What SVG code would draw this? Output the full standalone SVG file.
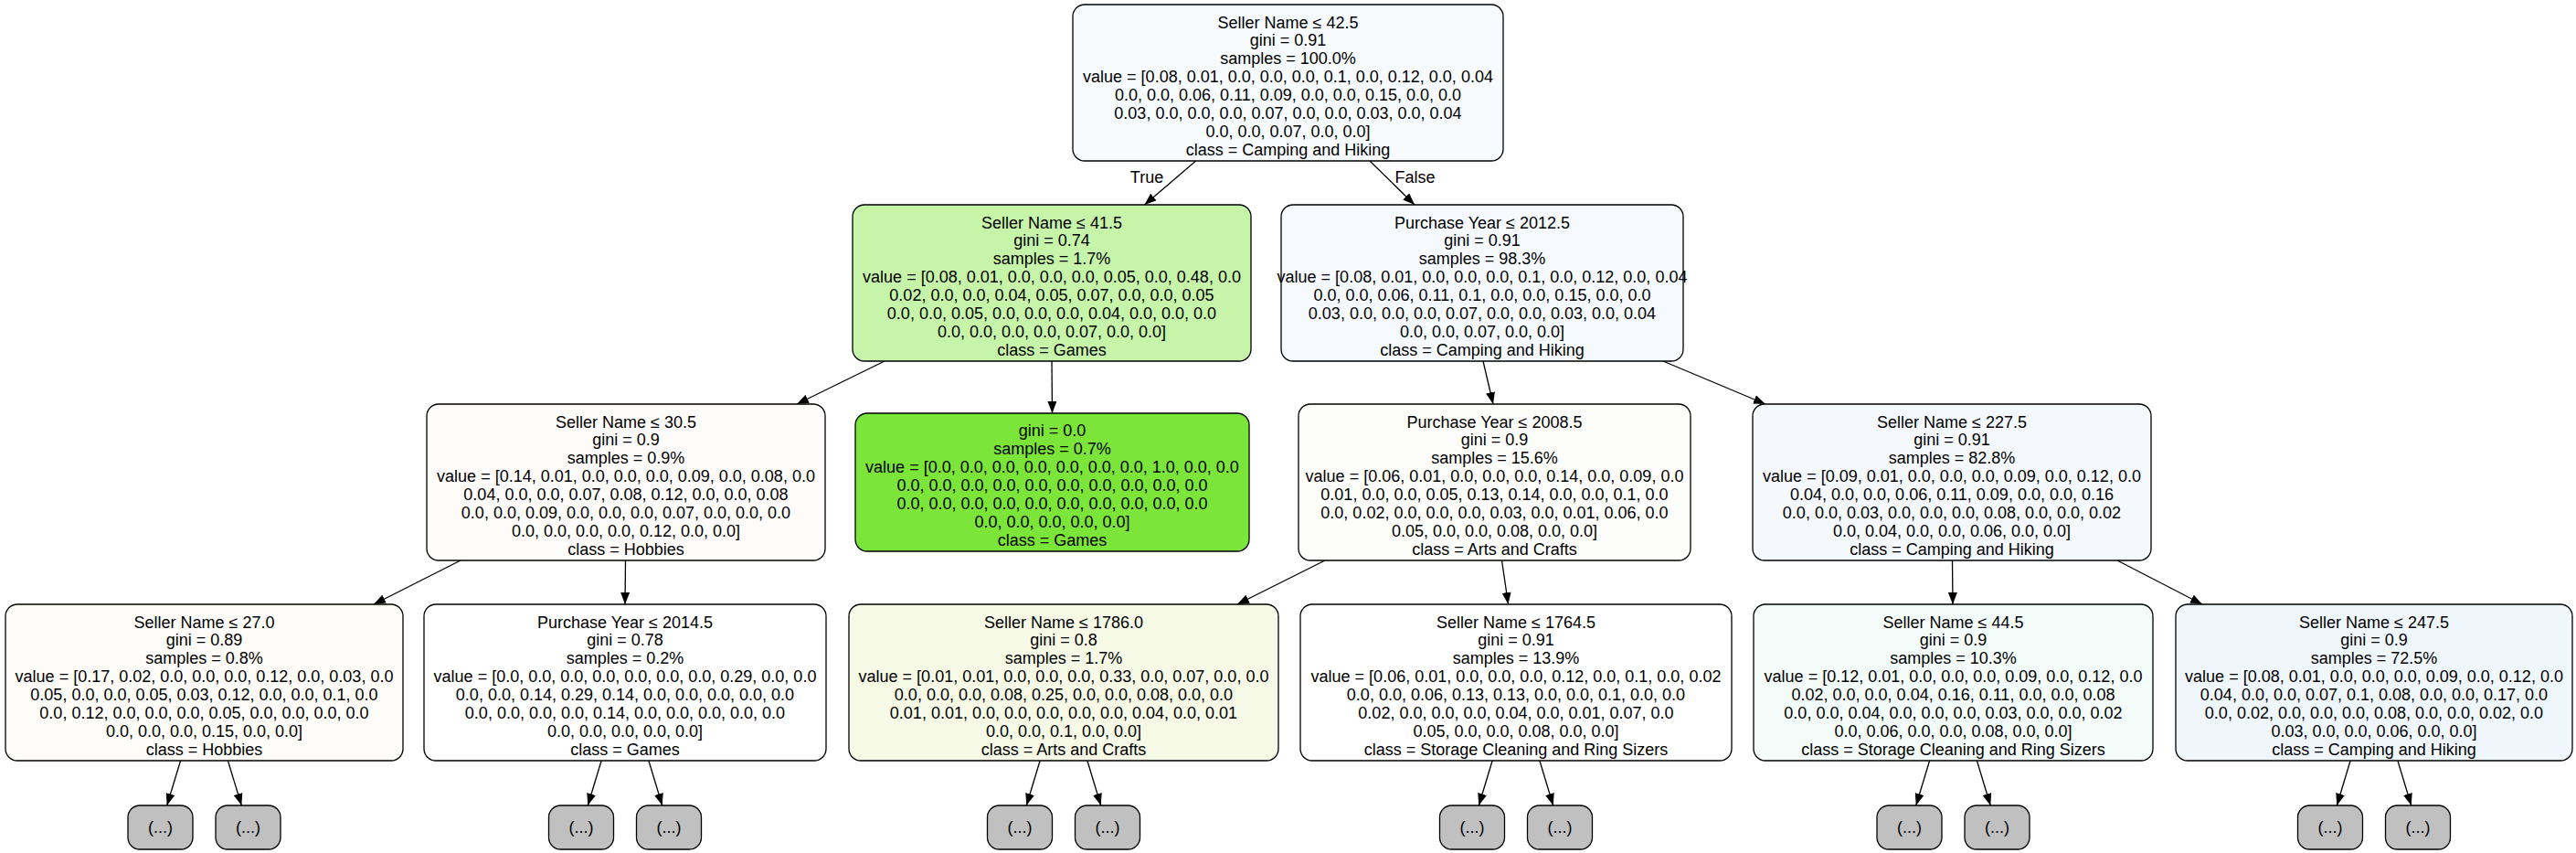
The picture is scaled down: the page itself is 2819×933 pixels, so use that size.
<svg xmlns="http://www.w3.org/2000/svg" width="2819" height="933" viewBox="0 0 2819 933">
<defs>
<style>
.n{stroke:#000;stroke-width:1.3}
.t{font-family:"Liberation Sans",Arial,Helvetica,sans-serif;font-size:18px;fill:#000;text-anchor:middle}
.e{stroke:#000;stroke-width:1.3;fill:none;marker-end:url(#ah)}
.g{fill:#c0c0c0}
</style>
<marker id="ah" markerUnits="userSpaceOnUse" viewBox="0 0 13 10" refX="13" refY="5" markerWidth="13" markerHeight="10" orient="auto">
<path d="M0,0 L13,5 L0,10 z" fill="#000"/>
</marker>
</defs>
<rect width="2819" height="933" fill="#fff"/>
<g id="edges">
<line class="e" x1="1308.6" y1="176" x2="1252.5" y2="224"/>
<line class="e" x1="1499" y1="176" x2="1548" y2="224"/>
<line class="e" x1="968" y1="395" x2="872" y2="442"/>
<line class="e" x1="1151" y1="395" x2="1151.5" y2="452"/>
<line class="e" x1="1623" y1="395" x2="1634" y2="442"/>
<line class="e" x1="1820" y1="395" x2="1932" y2="442"/>
<line class="e" x1="504" y1="613" x2="409" y2="661"/>
<line class="e" x1="684.5" y1="613" x2="684" y2="661"/>
<line class="e" x1="1450" y1="613" x2="1354" y2="661"/>
<line class="e" x1="1643.5" y1="613" x2="1650.5" y2="661"/>
<line class="e" x1="2136.5" y1="613" x2="2137" y2="661"/>
<line class="e" x1="2317" y1="613" x2="2410" y2="661"/>
<line class="e" x1="197.6" y1="832" x2="182.7" y2="881"/>
<line class="e" x1="249.4" y1="832" x2="264.3" y2="881"/>
<line class="e" x1="658.1" y1="832" x2="643.3" y2="881"/>
<line class="e" x1="709.9" y1="832" x2="724.7" y2="881"/>
<line class="e" x1="1138.1" y1="832" x2="1123.3" y2="881"/>
<line class="e" x1="1189.9" y1="832" x2="1204.7" y2="881"/>
<line class="e" x1="1633.1" y1="832" x2="1618.3" y2="881"/>
<line class="e" x1="1684.9" y1="832" x2="1699.7" y2="881"/>
<line class="e" x1="2111.6" y1="832" x2="2096.8" y2="881"/>
<line class="e" x1="2163.4" y1="832" x2="2178.2" y2="881"/>
<line class="e" x1="2572.1" y1="832" x2="2557.3" y2="881"/>
<line class="e" x1="2623.9" y1="832" x2="2638.7" y2="881"/>
<text class="t" x="1255" y="200">True</text>
<text class="t" x="1548.5" y="200">False</text>
</g>
<g id="n0">
<rect class="n" x="1174" y="5" width="471" height="171" rx="13" fill="#f7fbfe"/>
<text class="t"><tspan x="1409.5" y="30.5">Seller Name ≤ 42.5</tspan><tspan x="1409.5" y="50.4">gini = 0.91</tspan><tspan x="1409.5" y="70.2">samples = 100.0%</tspan><tspan x="1409.5" y="90.1">value = [0.08, 0.01, 0.0, 0.0, 0.0, 0.1, 0.0, 0.12, 0.0, 0.04</tspan><tspan x="1409.5" y="110">0.0, 0.0, 0.06, 0.11, 0.09, 0.0, 0.0, 0.15, 0.0, 0.0</tspan><tspan x="1409.5" y="129.8">0.03, 0.0, 0.0, 0.0, 0.07, 0.0, 0.0, 0.03, 0.0, 0.04</tspan><tspan x="1409.5" y="149.7">0.0, 0.0, 0.07, 0.0, 0.0]</tspan><tspan x="1409.5" y="169.5">class = Camping and Hiking</tspan></text>
</g>
<g id="n1">
<rect class="n" x="933" y="224" width="436" height="171" rx="13" fill="#c6f4a9"/>
<text class="t"><tspan x="1151" y="249.5">Seller Name ≤ 41.5</tspan><tspan x="1151" y="269.4">gini = 0.74</tspan><tspan x="1151" y="289.2">samples = 1.7%</tspan><tspan x="1151" y="309.1">value = [0.08, 0.01, 0.0, 0.0, 0.0, 0.05, 0.0, 0.48, 0.0</tspan><tspan x="1151" y="329">0.02, 0.0, 0.0, 0.04, 0.05, 0.07, 0.0, 0.0, 0.05</tspan><tspan x="1151" y="348.8">0.0, 0.0, 0.05, 0.0, 0.0, 0.0, 0.04, 0.0, 0.0, 0.0</tspan><tspan x="1151" y="368.7">0.0, 0.0, 0.0, 0.0, 0.07, 0.0, 0.0]</tspan><tspan x="1151" y="388.5">class = Games</tspan></text>
</g>
<g id="n2">
<rect class="n" x="1402" y="224" width="440" height="171" rx="13" fill="#f6fafe"/>
<text class="t"><tspan x="1622" y="249.5">Purchase Year ≤ 2012.5</tspan><tspan x="1622" y="269.4">gini = 0.91</tspan><tspan x="1622" y="289.2">samples = 98.3%</tspan><tspan x="1622" y="309.1">value = [0.08, 0.01, 0.0, 0.0, 0.0, 0.1, 0.0, 0.12, 0.0, 0.04</tspan><tspan x="1622" y="329">0.0, 0.0, 0.06, 0.11, 0.1, 0.0, 0.0, 0.15, 0.0, 0.0</tspan><tspan x="1622" y="348.8">0.03, 0.0, 0.0, 0.0, 0.07, 0.0, 0.0, 0.03, 0.0, 0.04</tspan><tspan x="1622" y="368.7">0.0, 0.0, 0.07, 0.0, 0.0]</tspan><tspan x="1622" y="388.5">class = Camping and Hiking</tspan></text>
</g>
<g id="n3">
<rect class="n" x="467" y="442" width="436" height="171" rx="13" fill="#fefcfa"/>
<text class="t"><tspan x="685" y="467.5">Seller Name ≤ 30.5</tspan><tspan x="685" y="487.4">gini = 0.9</tspan><tspan x="685" y="507.2">samples = 0.9%</tspan><tspan x="685" y="527.1">value = [0.14, 0.01, 0.0, 0.0, 0.0, 0.09, 0.0, 0.08, 0.0</tspan><tspan x="685" y="547">0.04, 0.0, 0.0, 0.07, 0.08, 0.12, 0.0, 0.0, 0.08</tspan><tspan x="685" y="566.8">0.0, 0.0, 0.09, 0.0, 0.0, 0.0, 0.07, 0.0, 0.0, 0.0</tspan><tspan x="685" y="586.7">0.0, 0.0, 0.0, 0.0, 0.12, 0.0, 0.0]</tspan><tspan x="685" y="606.5">class = Hobbies</tspan></text>
</g>
<g id="n4">
<rect class="n" x="936" y="452" width="431" height="151" rx="13" fill="#7be539"/>
<text class="t"><tspan x="1151.5" y="477.4">gini = 0.0</tspan><tspan x="1151.5" y="497.3">samples = 0.7%</tspan><tspan x="1151.5" y="517.1">value = [0.0, 0.0, 0.0, 0.0, 0.0, 0.0, 0.0, 1.0, 0.0, 0.0</tspan><tspan x="1151.5" y="537">0.0, 0.0, 0.0, 0.0, 0.0, 0.0, 0.0, 0.0, 0.0, 0.0</tspan><tspan x="1151.5" y="556.9">0.0, 0.0, 0.0, 0.0, 0.0, 0.0, 0.0, 0.0, 0.0, 0.0</tspan><tspan x="1151.5" y="576.7">0.0, 0.0, 0.0, 0.0, 0.0]</tspan><tspan x="1151.5" y="596.6">class = Games</tspan></text>
</g>
<g id="n5">
<rect class="n" x="1421" y="442" width="429" height="171" rx="13" fill="#fdfefc"/>
<text class="t"><tspan x="1635.5" y="467.5">Purchase Year ≤ 2008.5</tspan><tspan x="1635.5" y="487.4">gini = 0.9</tspan><tspan x="1635.5" y="507.2">samples = 15.6%</tspan><tspan x="1635.5" y="527.1">value = [0.06, 0.01, 0.0, 0.0, 0.0, 0.14, 0.0, 0.09, 0.0</tspan><tspan x="1635.5" y="547">0.01, 0.0, 0.0, 0.05, 0.13, 0.14, 0.0, 0.0, 0.1, 0.0</tspan><tspan x="1635.5" y="566.8">0.0, 0.02, 0.0, 0.0, 0.0, 0.03, 0.0, 0.01, 0.06, 0.0</tspan><tspan x="1635.5" y="586.7">0.05, 0.0, 0.0, 0.08, 0.0, 0.0]</tspan><tspan x="1635.5" y="606.5">class = Arts and Crafts</tspan></text>
</g>
<g id="n6">
<rect class="n" x="1918" y="442" width="436" height="171" rx="13" fill="#f5f9fd"/>
<text class="t"><tspan x="2136" y="467.5">Seller Name ≤ 227.5</tspan><tspan x="2136" y="487.4">gini = 0.91</tspan><tspan x="2136" y="507.2">samples = 82.8%</tspan><tspan x="2136" y="527.1">value = [0.09, 0.01, 0.0, 0.0, 0.0, 0.09, 0.0, 0.12, 0.0</tspan><tspan x="2136" y="547">0.04, 0.0, 0.0, 0.06, 0.11, 0.09, 0.0, 0.0, 0.16</tspan><tspan x="2136" y="566.8">0.0, 0.0, 0.03, 0.0, 0.0, 0.0, 0.08, 0.0, 0.0, 0.02</tspan><tspan x="2136" y="586.7">0.0, 0.04, 0.0, 0.0, 0.06, 0.0, 0.0]</tspan><tspan x="2136" y="606.5">class = Camping and Hiking</tspan></text>
</g>
<g id="n7">
<rect class="n" x="6" y="661" width="435" height="171" rx="13" fill="#fdfcf9"/>
<text class="t"><tspan x="223.5" y="686.5">Seller Name ≤ 27.0</tspan><tspan x="223.5" y="706.4">gini = 0.89</tspan><tspan x="223.5" y="726.2">samples = 0.8%</tspan><tspan x="223.5" y="746.1">value = [0.17, 0.02, 0.0, 0.0, 0.0, 0.12, 0.0, 0.03, 0.0</tspan><tspan x="223.5" y="766">0.05, 0.0, 0.0, 0.05, 0.03, 0.12, 0.0, 0.0, 0.1, 0.0</tspan><tspan x="223.5" y="785.8">0.0, 0.12, 0.0, 0.0, 0.0, 0.05, 0.0, 0.0, 0.0, 0.0</tspan><tspan x="223.5" y="805.7">0.0, 0.0, 0.0, 0.15, 0.0, 0.0]</tspan><tspan x="223.5" y="825.5">class = Hobbies</tspan></text>
</g>
<g id="n8">
<rect class="n" x="464" y="661" width="440" height="171" rx="13" fill="#ffffff"/>
<text class="t"><tspan x="684" y="686.5">Purchase Year ≤ 2014.5</tspan><tspan x="684" y="706.4">gini = 0.78</tspan><tspan x="684" y="726.2">samples = 0.2%</tspan><tspan x="684" y="746.1">value = [0.0, 0.0, 0.0, 0.0, 0.0, 0.0, 0.0, 0.29, 0.0, 0.0</tspan><tspan x="684" y="766">0.0, 0.0, 0.14, 0.29, 0.14, 0.0, 0.0, 0.0, 0.0, 0.0</tspan><tspan x="684" y="785.8">0.0, 0.0, 0.0, 0.0, 0.14, 0.0, 0.0, 0.0, 0.0, 0.0</tspan><tspan x="684" y="805.7">0.0, 0.0, 0.0, 0.0, 0.0]</tspan><tspan x="684" y="825.5">class = Games</tspan></text>
</g>
<g id="n9">
<rect class="n" x="929" y="661" width="470" height="171" rx="13" fill="#f5f9e6"/>
<text class="t"><tspan x="1164" y="686.5">Seller Name ≤ 1786.0</tspan><tspan x="1164" y="706.4">gini = 0.8</tspan><tspan x="1164" y="726.2">samples = 1.7%</tspan><tspan x="1164" y="746.1">value = [0.01, 0.01, 0.0, 0.0, 0.0, 0.33, 0.0, 0.07, 0.0, 0.0</tspan><tspan x="1164" y="766">0.0, 0.0, 0.0, 0.08, 0.25, 0.0, 0.0, 0.08, 0.0, 0.0</tspan><tspan x="1164" y="785.8">0.01, 0.01, 0.0, 0.0, 0.0, 0.0, 0.0, 0.04, 0.0, 0.01</tspan><tspan x="1164" y="805.7">0.0, 0.0, 0.1, 0.0, 0.0]</tspan><tspan x="1164" y="825.5">class = Arts and Crafts</tspan></text>
</g>
<g id="n10">
<rect class="n" x="1423" y="661" width="472" height="171" rx="13" fill="#ffffff"/>
<text class="t"><tspan x="1659" y="686.5">Seller Name ≤ 1764.5</tspan><tspan x="1659" y="706.4">gini = 0.91</tspan><tspan x="1659" y="726.2">samples = 13.9%</tspan><tspan x="1659" y="746.1">value = [0.06, 0.01, 0.0, 0.0, 0.0, 0.12, 0.0, 0.1, 0.0, 0.02</tspan><tspan x="1659" y="766">0.0, 0.0, 0.06, 0.13, 0.13, 0.0, 0.0, 0.1, 0.0, 0.0</tspan><tspan x="1659" y="785.8">0.02, 0.0, 0.0, 0.0, 0.04, 0.0, 0.01, 0.07, 0.0</tspan><tspan x="1659" y="805.7">0.05, 0.0, 0.0, 0.08, 0.0, 0.0]</tspan><tspan x="1659" y="825.5">class = Storage Cleaning and Ring Sizers</tspan></text>
</g>
<g id="n11">
<rect class="n" x="1919" y="661" width="437" height="171" rx="13" fill="#f4fcfa"/>
<text class="t"><tspan x="2137.5" y="686.5">Seller Name ≤ 44.5</tspan><tspan x="2137.5" y="706.4">gini = 0.9</tspan><tspan x="2137.5" y="726.2">samples = 10.3%</tspan><tspan x="2137.5" y="746.1">value = [0.12, 0.01, 0.0, 0.0, 0.0, 0.09, 0.0, 0.12, 0.0</tspan><tspan x="2137.5" y="766">0.02, 0.0, 0.0, 0.04, 0.16, 0.11, 0.0, 0.0, 0.08</tspan><tspan x="2137.5" y="785.8">0.0, 0.0, 0.04, 0.0, 0.0, 0.0, 0.03, 0.0, 0.0, 0.02</tspan><tspan x="2137.5" y="805.7">0.0, 0.06, 0.0, 0.0, 0.08, 0.0, 0.0]</tspan><tspan x="2137.5" y="825.5">class = Storage Cleaning and Ring Sizers</tspan></text>
</g>
<g id="n12">
<rect class="n" x="2381" y="661" width="434" height="171" rx="13" fill="#f0f7fc"/>
<text class="t"><tspan x="2598" y="686.5">Seller Name ≤ 247.5</tspan><tspan x="2598" y="706.4">gini = 0.9</tspan><tspan x="2598" y="726.2">samples = 72.5%</tspan><tspan x="2598" y="746.1">value = [0.08, 0.01, 0.0, 0.0, 0.0, 0.09, 0.0, 0.12, 0.0</tspan><tspan x="2598" y="766">0.04, 0.0, 0.0, 0.07, 0.1, 0.08, 0.0, 0.0, 0.17, 0.0</tspan><tspan x="2598" y="785.8">0.0, 0.02, 0.0, 0.0, 0.0, 0.08, 0.0, 0.0, 0.02, 0.0</tspan><tspan x="2598" y="805.7">0.03, 0.0, 0.0, 0.06, 0.0, 0.0]</tspan><tspan x="2598" y="825.5">class = Camping and Hiking</tspan></text>
</g>
<g id="x1"><rect class="n g" x="140" y="881" width="71" height="48" rx="13"/><text class="t" x="175.5" y="911">(...)</text></g>
<g id="x2"><rect class="n g" x="236" y="881" width="71" height="48" rx="13"/><text class="t" x="271.5" y="911">(...)</text></g>
<g id="x3"><rect class="n g" x="600.5" y="881" width="71" height="48" rx="13"/><text class="t" x="636" y="911">(...)</text></g>
<g id="x4"><rect class="n g" x="696.5" y="881" width="71" height="48" rx="13"/><text class="t" x="732" y="911">(...)</text></g>
<g id="x5"><rect class="n g" x="1080.5" y="881" width="71" height="48" rx="13"/><text class="t" x="1116" y="911">(...)</text></g>
<g id="x6"><rect class="n g" x="1176.5" y="881" width="71" height="48" rx="13"/><text class="t" x="1212" y="911">(...)</text></g>
<g id="x7"><rect class="n g" x="1575.5" y="881" width="71" height="48" rx="13"/><text class="t" x="1611" y="911">(...)</text></g>
<g id="x8"><rect class="n g" x="1671.5" y="881" width="71" height="48" rx="13"/><text class="t" x="1707" y="911">(...)</text></g>
<g id="x9"><rect class="n g" x="2054" y="881" width="71" height="48" rx="13"/><text class="t" x="2089.5" y="911">(...)</text></g>
<g id="x10"><rect class="n g" x="2150" y="881" width="71" height="48" rx="13"/><text class="t" x="2185.5" y="911">(...)</text></g>
<g id="x11"><rect class="n g" x="2514.5" y="881" width="71" height="48" rx="13"/><text class="t" x="2550" y="911">(...)</text></g>
<g id="x12"><rect class="n g" x="2610.5" y="881" width="71" height="48" rx="13"/><text class="t" x="2646" y="911">(...)</text></g>
</svg>
